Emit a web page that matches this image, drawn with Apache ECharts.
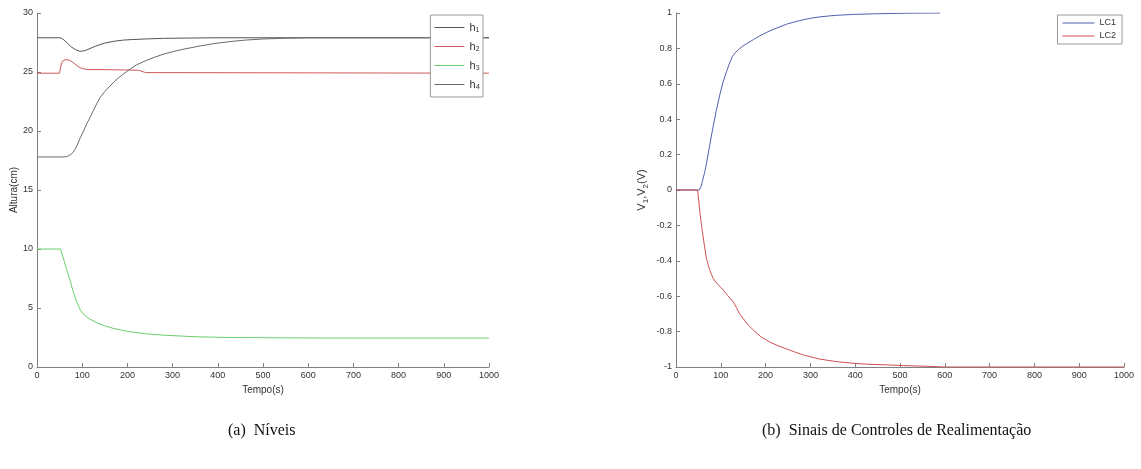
<!DOCTYPE html>
<html><head><meta charset="utf-8">
<script src="https://cdn.jsdelivr.net/npm/echarts@6/dist/echarts.min.js"></script>
<style>html,body{margin:0;padding:0;background:#fff}#c{width:1141px;height:469px}</style>
</head><body><div id="c"></div>
<script>
// ---- data ----
const h1T = [0,50,55,60,67,75,85,95,105,115,130,150,170,190,210,240,280,340,400,600,1000];
const h1V = [27.9,27.9,27.85,27.7,27.45,27.15,26.9,26.75,26.8,26.95,27.2,27.45,27.6,27.7,27.75,27.8,27.85,27.88,27.9,27.9,27.9];
const h2T = [0,50,52,56,62,72,80,88,96,105,115,150,225,240,1000];
const h2V = [24.9,24.9,25.4,25.9,26.05,26.0,25.8,25.55,25.35,25.25,25.2,25.2,25.15,24.95,24.9];
const h3T = [0,52,56,60,66,73,80,88,95,102,115,132,150,169,190,206,240,279,320,353,427,550,700,1000];
const h3V = [10,10,9.5,9.0,8.2,7.35,6.4,5.5,4.9,4.5,4.1,3.75,3.48,3.27,3.1,2.98,2.82,2.7,2.62,2.56,2.5,2.47,2.45,2.45];
const h4T = [0,60,65,70,75,80,85,90,96,103,110,118,125,132,140,150,160,169,180,190,206,220,240,260,279,300,320,353,390,427,460,500,550,600,1000];
const h4V = [17.8,17.8,17.83,17.9,18.02,18.2,18.5,18.9,19.45,20.0,20.6,21.2,21.75,22.3,22.85,23.35,23.75,24.1,24.5,24.8,25.25,25.6,25.95,26.25,26.5,26.72,26.9,27.15,27.4,27.58,27.7,27.8,27.86,27.9,27.9];
const lc1T = [0,52,56,60,64,68,75,83,90,98,105,113,120,126,132,140,150,160,173,190,210,230,247,265,284,300,321,340,359,396,450,520,590];
const lc1V = [0,0,0.02,0.06,0.1,0.15,0.25,0.36,0.45,0.54,0.61,0.67,0.72,0.755,0.775,0.795,0.815,0.83,0.85,0.875,0.9,0.92,0.937,0.95,0.962,0.97,0.978,0.983,0.987,0.992,0.996,0.999,1.0];
const lc2T = [0,48,50,53,57,62,68,75,83,92,100,106,115,122,128,135,142,150,160,173,190,210,230,247,265,284,320,359,400,433,470,507,560,600,1000];
const lc2V = [0,0,-0.04,-0.12,-0.2,-0.29,-0.388,-0.45,-0.5,-0.53,-0.55,-0.566,-0.595,-0.615,-0.632,-0.665,-0.7,-0.726,-0.76,-0.792,-0.83,-0.86,-0.882,-0.898,-0.915,-0.932,-0.955,-0.97,-0.98,-0.985,-0.988,-0.992,-0.996,-1,-1];
const namesA = ['h\u2081','h\u2082','h\u2083','h\u2084'];
const namesB = ['LC1','LC2'];
const xLabel = 'Tempo(s)';
const yLabelA = 'Altura(cm)';
const yLabelB = '{a|V}{s|1}{a|,V}{s|2}{a|(V)}';
const captionA = '(a)  Níveis';
const captionB = '(b)  Sinais de Controles de Realimentação';

const pairs = (t, v) => t.map((x, i) => [x, v[i]]);
const axisCol = '#808080';
const txtCol = '#333';
const sans = '"Liberation Sans", Arial, sans-serif';

function xAx(gi) {
  return {
    type: 'value', gridIndex: gi, min: 0, max: 1000, interval: 100,
    name: xLabel, nameLocation: 'middle', nameGap: 14,
    nameTextStyle: { fontFamily: sans, fontSize: 10, color: txtCol },
    axisLine: { onZero: false, lineStyle: { color: axisCol, width: 1 } },
    axisTick: { inside: true, length: 4, lineStyle: { color: axisCol } },
    axisLabel: { fontFamily: sans, fontSize: 9, color: txtCol, margin: 4,
      formatter: v => String(v) },
    splitLine: { show: false }
  };
}
function yAx(gi, min, max, interval, name, gap, rich) {
  const nts = { fontFamily: sans, fontSize: 10, color: txtCol };
  if (rich) {
    nts.rich = {
      a: { fontFamily: sans, fontSize: 11, color: txtCol, lineHeight: 14, verticalAlign: 'top' },
      s: { fontFamily: sans, fontSize: 8, color: txtCol, lineHeight: 14, verticalAlign: 'bottom', padding: [5, 0, 0, 0] }
    };
  }
  return {
    type: 'value', gridIndex: gi, min: min, max: max, interval: interval,
    name: name, nameLocation: 'middle', nameGap: gap,
    nameTextStyle: nts,
    axisLine: { show: true, onZero: false, lineStyle: { color: axisCol, width: 1 } },
    axisTick: { show: true, inside: true, length: 4, lineStyle: { color: axisCol } },
    axisLabel: { fontFamily: sans, fontSize: 9, color: txtCol, margin: 4,
      formatter: v => String(Math.round(v * 10) / 10) },
    splitLine: { show: false }
  };
}
function ser(name, xi, data, color) {
  return {
    type: 'line', name: name, xAxisIndex: xi, yAxisIndex: xi,
    data: data, symbol: 'none', showSymbol: false,
    smooth: false,
    lineStyle: { color: color, width: 1 }, itemStyle: { color: color },
    animation: false
  };
}

const chart = echarts.init(document.getElementById('c'));
chart.setOption({
  animation: false,
  backgroundColor: '#fff',
  grid: [
    { left: 37, right: 652, top: 13, bottom: 102 },
    { left: 676, right: 17, top: 13, bottom: 102 }
  ],
  xAxis: [xAx(0), xAx(1)],
  yAxis: [
    yAx(0, 0, 30, 5, yLabelA, 18, false),
    yAx(1, -1, 1, 0.2, yLabelB, 26, true)
  ],
  legend: [
    {
      data: namesA, orient: 'vertical', right: 658, top: 15,
      icon: 'rect', itemWidth: 30, itemHeight: 1, itemGap: 6,
      padding: [6, 3, 6, 4],
      backgroundColor: '#fff', borderColor: '#999', borderWidth: 1,
      textStyle: { fontFamily: sans, fontSize: 11, color: txtCol, lineHeight: 13 },
      selectedMode: false
    },
    {
      data: namesB, orient: 'vertical', right: 19, top: 15,
      icon: 'rect', itemWidth: 32, itemHeight: 1, itemGap: 3,
      padding: [3, 6, 3, 5],
      backgroundColor: '#fff', borderColor: '#999', borderWidth: 1,
      textStyle: { fontFamily: sans, fontSize: 9, color: txtCol, lineHeight: 10 },
      selectedMode: false
    }
  ],
  series: [
    ser(namesA[0], 0, pairs(h1T, h1V), '#555555'),
    ser(namesA[1], 0, pairs(h2T, h2V), '#d05a5a'),
    ser(namesA[2], 0, pairs(h3T, h3V), '#6ccf6c'),
    ser(namesA[3], 0, pairs(h4T, h4V), '#6a6a6a'),
    ser(namesB[0], 1, pairs(lc1T, lc1V), '#5060b0'),
    ser(namesB[1], 1, pairs(lc2T, lc2V), '#d05050')
  ],
  graphic: [
    { type: 'text', left: 228, top: 423,
      style: { text: captionA, fontFamily: '"Liberation Serif", serif', fontSize: 16, fill: '#111' } },
    { type: 'text', left: 762, top: 423,
      style: { text: captionB, fontFamily: '"Liberation Serif", serif', fontSize: 16, fill: '#111' } }
  ]
});
</script>
</body></html>
